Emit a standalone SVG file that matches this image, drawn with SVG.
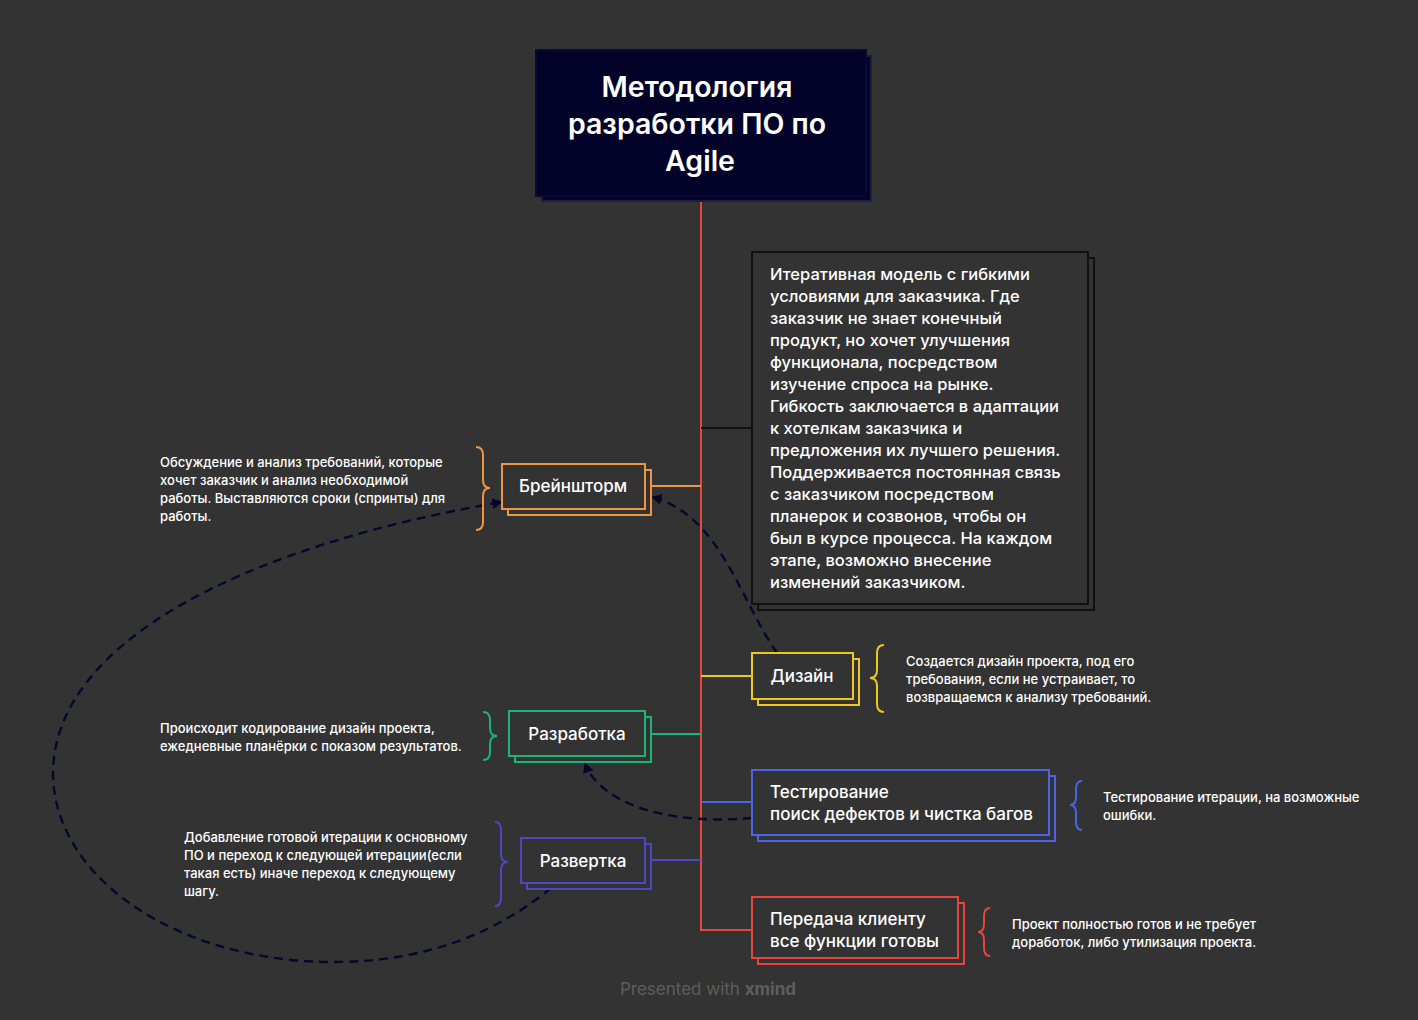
<svg xmlns="http://www.w3.org/2000/svg" width="1418" height="1020" viewBox="0 0 1418 1020">
<defs>
<marker id="arr" viewBox="0 0 10 10" refX="9" refY="5" markerWidth="4.5" markerHeight="4.5" orient="auto-start-reverse" markerUnits="strokeWidth">
<path d="M0,0 L10,5 L0,10 z" fill="#07072c"/>
</marker>
<style>
text{font-family:Inter,"Noto Sans","Liberation Sans",sans-serif;fill:#ffffff}
.title{font-size:28.5px;font-weight:600}
.node{font-size:17px;font-weight:500}
.desc{font-size:16.5px;font-weight:500}
.note{font-size:13px;font-weight:500}
.box{fill:#333333;stroke-width:2}
.brace{fill:none;stroke-width:2}
.conn{fill:none;stroke-width:2}
.dash{fill:none;stroke:#07072c;stroke-width:2.4;stroke-dasharray:9 6}
</style>
</defs>
<rect width="1418" height="1020" fill="#333333"/>

<g id="connectors">
<path class="conn" stroke="#e8453c" d="M701,201 V930 H752"/>
<path class="conn" stroke="#111111" d="M701,428 H752"/>
<path class="conn" stroke="#f0953f" d="M651,486 H701"/>
<path class="conn" stroke="#ecc71f" d="M701,676 H752"/>
<path class="conn" stroke="#19b47c" d="M651,734 H701"/>
<path class="conn" stroke="#4b63e8" d="M701,802 H752"/>
<path class="conn" stroke="#4f46c4" d="M651,860 H701"/>
<path class="dash" marker-end="url(#arr)" d="M777,653 C740,600 720,515 652,497"/>
<path class="dash" marker-end="url(#arr)" d="M752,818 C660,826 598,800 585,763"/>
<path class="dash" marker-end="url(#arr)" d="M551,888 C500,930 430,962 333,962 C180,962 55,880 53,775 C52,640 250,545 502,502"/>
</g>

<g id="root">
<rect x="542" y="56" width="329" height="145" fill="#03032a" stroke="#1c1c44" stroke-width="2"/>
<rect x="536" y="50" width="330" height="146" fill="#03032a" stroke="#0a0a30" stroke-width="2"/>
<text class="title" x="697" y="97" text-anchor="middle">Методология</text>
<text class="title" x="697" y="134" text-anchor="middle">разработки ПО по</text>
<text class="title" x="700" y="171" text-anchor="middle" font-weight="700">Agile</text>
</g>

<g id="description">
<rect class="box" x="758" y="258" width="336" height="352" stroke="#111111"/>
<rect class="box" x="752" y="252" width="336" height="352" stroke="#111111"/>
<text class="desc" x="770">
<tspan x="770" y="280">Итеративная модель с гибкими</tspan>
<tspan x="770" y="302">условиями для заказчика. Где</tspan>
<tspan x="770" y="324">заказчик не знает конечный</tspan>
<tspan x="770" y="346">продукт, но хочет улучшения</tspan>
<tspan x="770" y="368">функционала, посредством</tspan>
<tspan x="770" y="390">изучение спроса на рынке.</tspan>
<tspan x="770" y="412">Гибкость заключается в адаптации</tspan>
<tspan x="770" y="434">к хотелкам заказчика и</tspan>
<tspan x="770" y="456">предложения их лучшего решения.</tspan>
<tspan x="770" y="478">Поддерживается постоянная связь</tspan>
<tspan x="770" y="500">с заказчиком посредством</tspan>
<tspan x="770" y="522">планерок и созвонов, чтобы он</tspan>
<tspan x="770" y="544">был в курсе процесса. На каждом</tspan>
<tspan x="770" y="566">этапе, возможно внесение</tspan>
<tspan x="770" y="588">изменений заказчиком.</tspan>
</text>
</g>

<g id="brainstorm">
<rect class="box" x="508" y="470" width="143" height="45" stroke="#f0953f"/>
<rect class="box" x="502" y="464" width="143" height="45" stroke="#f0953f"/>
<text class="node" x="573" y="492" text-anchor="middle">Брейншторм</text>
<path class="brace" stroke="#f0953f" d="M476,447 Q483,447 483,455 V480 Q483,488 490,488 Q483,488 483,496 V522 Q483,530 476,530"/>
<text class="note"><tspan x="160" y="467">Обсуждение и анализ требований, которые</tspan><tspan x="160" y="485">хочет заказчик и анализ необходимой</tspan><tspan x="160" y="503">работы. Выставляются сроки (спринты) для</tspan><tspan x="160" y="521">работы.</tspan></text>
</g>

<g id="design">
<rect class="box" x="758" y="659" width="101" height="46" stroke="#ecc71f"/>
<rect class="box" x="752" y="653" width="101" height="46" stroke="#ecc71f"/>
<text class="node" x="802" y="682" text-anchor="middle">Дизайн</text>
<path class="brace" stroke="#ecc71f" d="M884,645 Q877,645 877,653 V670 Q877,678 870,678 Q877,678 877,686 V704 Q877,712 884,712"/>
<text class="note"><tspan x="906" y="666">Создается дизайн проекта, под его</tspan><tspan x="906" y="684">требования, если не устраивает, то</tspan><tspan x="906" y="702">возвращаемся к анализу требований.</tspan></text>
</g>

<g id="development">
<rect class="box" x="515" y="717" width="136" height="45" stroke="#19b47c"/>
<rect class="box" x="509" y="711" width="136" height="45" stroke="#19b47c"/>
<text class="node" x="577" y="740" text-anchor="middle">Разработка</text>
<path class="brace" stroke="#19b47c" d="M483,712 Q490,712 490,720 V728 Q490,736 497,736 Q490,736 490,744 V752 Q490,760 483,760"/>
<text class="note"><tspan x="160" y="733">Происходит кодирование дизайн проекта,</tspan><tspan x="160" y="751">ежедневные планёрки с показом результатов.</tspan></text>
</g>

<g id="testing">
<rect class="box" x="758" y="776" width="297" height="65" stroke="#4b63e8"/>
<rect class="box" x="752" y="770" width="297" height="65" stroke="#4b63e8"/>
<text class="node"><tspan x="770" y="798">Тестирование</tspan><tspan x="770" y="820">поиск дефектов и чистка багов</tspan></text>
<path class="brace" stroke="#4b63e8" d="M1082,781 Q1076,781 1076,789 V797 Q1076,805 1070,805 Q1076,805 1076,813 V822 Q1076,830 1082,830"/>
<text class="note"><tspan x="1103" y="802">Тестирование итерации, на возможные</tspan><tspan x="1103" y="820">ошибки.</tspan></text>
</g>

<g id="deployment">
<rect class="box" x="527" y="844" width="124" height="45" stroke="#4f46c4"/>
<rect class="box" x="521" y="838" width="124" height="45" stroke="#4f46c4"/>
<text class="node" x="583" y="867" text-anchor="middle">Развертка</text>
<path class="brace" stroke="#4f46c4" d="M495,822 Q501,822 501,830 V854 Q501,862 508,862 Q501,862 501,870 V898 Q501,906 495,906"/>
<text class="note"><tspan x="184" y="842">Добавление готовой итерации к основному</tspan><tspan x="184" y="860">ПО и переход к следующей итерации(если</tspan><tspan x="184" y="878">такая есть) иначе переход к следующему</tspan><tspan x="184" y="896">шагу.</tspan></text>
</g>

<g id="delivery">
<rect class="box" x="758" y="903" width="206" height="61" stroke="#e8453c"/>
<rect class="box" x="752" y="897" width="206" height="61" stroke="#e8453c"/>
<text class="node"><tspan x="770" y="925">Передача клиенту</tspan><tspan x="770" y="947">все функции готовы</tspan></text>
<path class="brace" stroke="#e8453c" d="M990,908 Q984,908 984,916 V924 Q984,932 978,932 Q984,932 984,940 V948 Q984,956 990,956"/>
<text class="note"><tspan x="1012" y="929">Проект полностью готов и не требует</tspan><tspan x="1012" y="947">доработок, либо утилизация проекта.</tspan></text>
</g>

<g id="footer">
<text x="708" y="995" text-anchor="middle" font-size="17" style="fill:#5e5e5e">Presented with <tspan font-weight="700" style="fill:#5e5e5e">xmind</tspan></text>
</g>
</svg>
